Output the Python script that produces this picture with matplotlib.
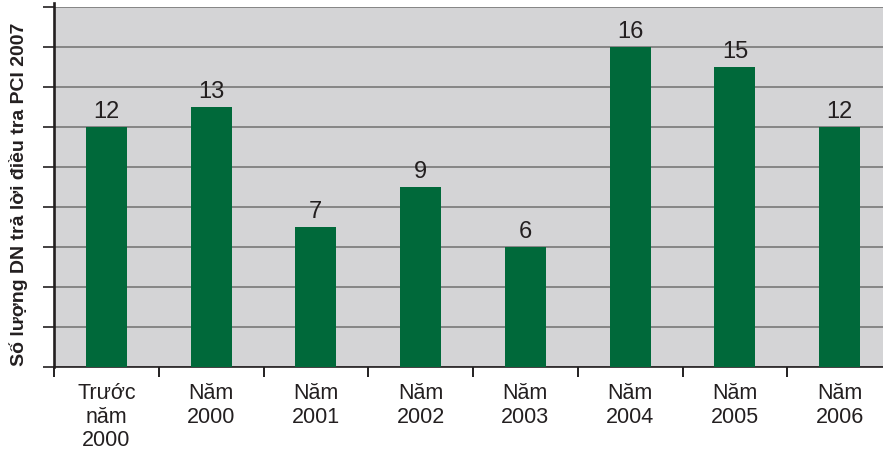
import matplotlib
matplotlib.use("Agg")
import matplotlib.pyplot as plt
import numpy as np

categories = ["Trước\nnăm\n2000", "Năm\n2000", "Năm\n2001", "Năm\n2002",
              "Năm\n2003", "Năm\n2004", "Năm\n2005", "Năm\n2006"]
values = [12, 13, 7, 9, 6, 16, 15, 12]
ylabel = "Số lượng DN trả lời điều tra PCI 2007"

plt.rcParams['font.family'] = ['Liberation Sans', 'DejaVu Sans']

fig = plt.figure(figsize=(8.83, 4.52), dpi=100)
W, H = 883, 452
left, right, top, bottom = 54, 892, 8, 368
ax = fig.add_axes([left / W, 1 - bottom / H, (right - left) / W, (bottom - top) / H])
ax.set_facecolor("#d4d4d6")

x = np.arange(len(values))
ax.bar(x, values, width=0.39, color="#00693a", zorder=3)
for xi, v in zip(x, values):
    ax.annotate(str(v), (xi, v), xytext=(0, 3.5), textcoords="offset points",
                ha="center", va="bottom", fontsize=17, color="#231f20", zorder=4)

ax.set_xlim(-0.5, len(values) - 0.5)
ax.set_ylim(0, 18)
ax.set_yticks(np.arange(0, 19, 2))
ax.set_yticklabels([])
ax.yaxis.grid(True, color="#707070", linewidth=1.1, zorder=1)
ax.tick_params(axis="y", direction="out", length=8, width=1.2, color="#231f20")

ax.set_xticks(np.arange(-0.5, len(values), 1), minor=False)
ax.set_xticklabels([])
ax.set_xticks(x, minor=True)
ax.set_xticklabels(categories, minor=True, fontsize=15.5, color="#231f20", linespacing=1.16)
ax.tick_params(axis="x", which="major", direction="out", length=7, width=1.4, color="#231f20")
ax.tick_params(axis="x", which="minor", length=0, pad=11)

for s in ["top", "right"]:
    ax.spines[s].set_visible(False)
ax.spines["left"].set_linewidth(1.9)
ax.spines["left"].set_color("#231f20")
ax.spines["left"].set_bounds(0, 18.2)
ax.spines["bottom"].set_linewidth(1.2)
ax.spines["bottom"].set_color("#231f20")

fig.text(19 / W, 1 - 194 / H, ylabel, rotation=90, ha="center", va="center",
         fontsize=14, fontweight="bold", color="#231f20")

fig.savefig("out.png", dpi=100)
